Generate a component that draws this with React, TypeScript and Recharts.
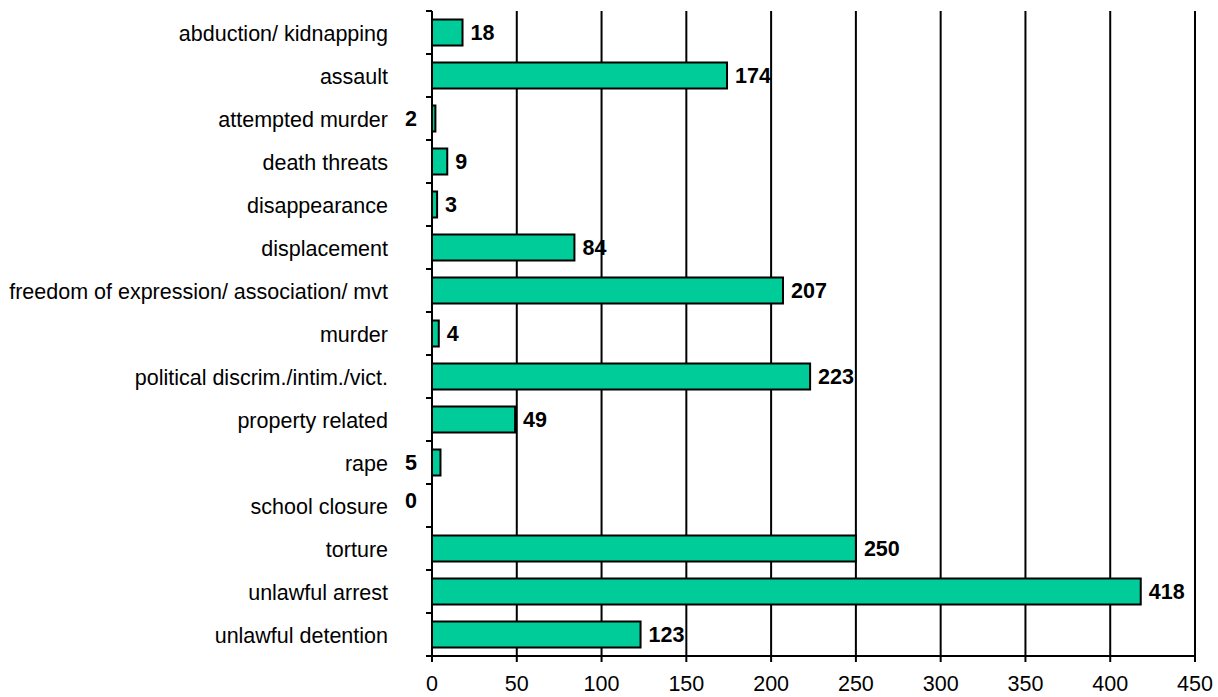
import React from 'react';
import { BarChart, Bar, XAxis, YAxis, CartesianGrid, LabelList, Rectangle } from 'recharts';

const categories = [
  'abduction/ kidnapping',
  'assault',
  'attempted murder',
  'death threats',
  'disappearance',
  'displacement',
  'freedom of expression/ association/ mvt',
  'murder',
  'political discrim./intim./vict.',
  'property related',
  'rape',
  'school closure',
  'torture',
  'unlawful arrest',
  'unlawful detention',
];

const counts = [18, 174, 2, 9, 3, 84, 207, 4, 223, 49, 5, 0, 250, 418, 123];

const xTicks = [0, 50, 100, 150, 200, 250, 300, 350, 400, 450];

// Excel put these value labels on the left side of the axis
const leftLabelled = ['attempted murder', 'rape', 'school closure'];

const data = categories.map((name, i) => ({ name, count: counts[i] }));

const FONT = '"Liberation Sans", Arial, sans-serif';
const FS = 21.5;
const W = 1218;
const H = 697;
const M = { top: 11, right: 23, bottom: 0, left: 0 };
const Y_AXIS_W = 432;
const X_AXIS_H = 41;
const BAND = (H - M.top - M.bottom - X_AXIS_H) / categories.length;
const AXIS_X = M.left + Y_AXIS_W;

const CategoryTick = ({ x, y, payload, index }: any) => {
  const last = index === categories.length - 1;
  return (
    <g>
      <line x1={AXIS_X - 6} x2={AXIS_X} y1={y - BAND / 2} y2={y - BAND / 2} stroke="#000" strokeWidth={2} />
      {last && (
        <line x1={AXIS_X - 6} x2={AXIS_X} y1={y + BAND / 2} y2={y + BAND / 2} stroke="#000" strokeWidth={2} />
      )}
      <text x={x} y={y} dy="0.4em" textAnchor="end" fill="#000" fontSize={FS} fontFamily={FONT}>
        {payload.value}
      </text>
    </g>
  );
};

// label gets the category name, count is looked up from it
const ValueLabel = ({ x, y, width, height, value }: any) => {
  const i = categories.indexOf(value);
  const left = leftLabelled.includes(value);
  return (
    <text
      x={left ? AXIS_X - 15 : x + width + 8}
      y={y + height / 2 - (counts[i] === 0 ? 5 : 0)}
      dy="0.36em"
      textAnchor={left ? 'end' : 'start'}
      fill="#000"
      fontSize={FS}
      fontWeight="bold"
      fontFamily={FONT}
    >
      {counts[i]}
    </text>
  );
};

const BarShape = (props: any) => {
  if (!props.count) return <g />;
  return <Rectangle {...props} />;
};

const App = () => {
  return (
    <div style={{ position: 'absolute', left: 0, top: 0, background: '#fff' }}>
      <BarChart width={W} height={H} data={data} layout="vertical" margin={M} barCategoryGap="20%">
        <CartesianGrid horizontal={false} stroke="#000" strokeWidth={2} />
        <XAxis
          type="number"
          domain={[0, 450]}
          ticks={xTicks}
          interval={0}
          height={X_AXIS_H}
          axisLine={{ stroke: '#000', strokeWidth: 2 }}
          tickLine={{ stroke: '#000', strokeWidth: 2 }}
          tickSize={6}
          tickMargin={14}
          tick={{ fill: '#000', fontSize: FS, fontFamily: FONT }}
        />
        <XAxis
          xAxisId="top"
          type="number"
          orientation="top"
          domain={[0, 450]}
          height={0}
          tick={false}
          tickLine={false}
          axisLine={{ stroke: '#000', strokeWidth: 2 }}
        />
        <YAxis
          type="category"
          dataKey="name"
          width={Y_AXIS_W}
          interval={0}
          axisLine={{ stroke: '#000', strokeWidth: 2 }}
          tickLine={false}
          tickSize={6}
          tickMargin={38}
          tick={<CategoryTick />}
        />
        <Bar
          dataKey="count"
          fill="#00CC99"
          stroke="#000"
          strokeWidth={2}
          minPointSize={(v: number) => (v === 0 ? 0.01 : 0)}
          shape={<BarShape />}
          isAnimationActive={false}
        >
          <LabelList dataKey="name" content={<ValueLabel />} />
        </Bar>
      </BarChart>
    </div>
  );
};

export default App;
